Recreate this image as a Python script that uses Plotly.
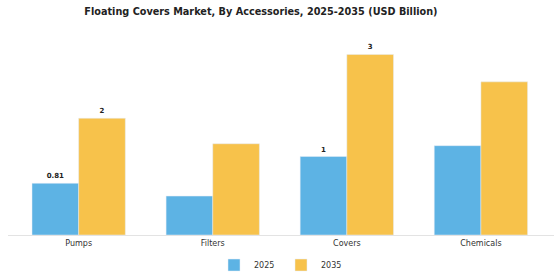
import plotly.graph_objects as go

categories = ["Pumps", "Filters", "Covers", "Chemicals"]
values_2025 = [0.81, 0.61, 1.23, 1.40]
values_2035 = [1.83, 1.43, 2.83, 2.40]
labels_2025 = ["0.81", "", "1", ""]
labels_2035 = ["2", "", "3", ""]

blue = "#5DB3E4"
yellow = "#F7C24B"

fig = go.Figure()
fig.add_trace(go.Bar(
    x=categories, y=values_2025, name="2025", marker_color=blue,
    text=labels_2025, textposition="outside", cliponaxis=False,
    textfont=dict(family="DejaVu Sans", size=7, color="#222222", weight="bold"),
))
fig.add_trace(go.Bar(
    x=categories, y=values_2035, name="2035", marker_color=yellow,
    text=labels_2035, textposition="outside", cliponaxis=False,
    textfont=dict(family="DejaVu Sans", size=7, color="#222222", weight="bold"),
))

fig.update_layout(
    width=560, height=280,
    margin=dict(l=8, r=6, t=40, b=45, autoexpand=False),
    paper_bgcolor="white", plot_bgcolor="white",
    barmode="group", bargap=0.304, bargroupgap=0,
    title=dict(text="<b>Floating Covers Market, By Accessories, 2025-2035 (USD Billion)</b>",
               x=0.466, xanchor="center", y=0.96, yanchor="middle",
               font=dict(family="DejaVu Sans", size=9.7, color="#222222")),
    font=dict(family="DejaVu Sans", size=8, color="#333333"),
    xaxis=dict(showline=True, linecolor="#e3e3e3", linewidth=1, ticks="", showgrid=False,
               range=[-0.527, 3.545], tickfont=dict(size=8, color="#333333")),
    yaxis=dict(visible=False, range=[0, 3.056], showgrid=False),
    legend=dict(orientation="h", x=0.5, xanchor="center", y=-0.154, yanchor="middle",
                font=dict(size=8, color="#333333"), itemwidth=30,
                entrywidth=22, entrywidthmode="pixels"),
)

fig.write_html("out.html")
